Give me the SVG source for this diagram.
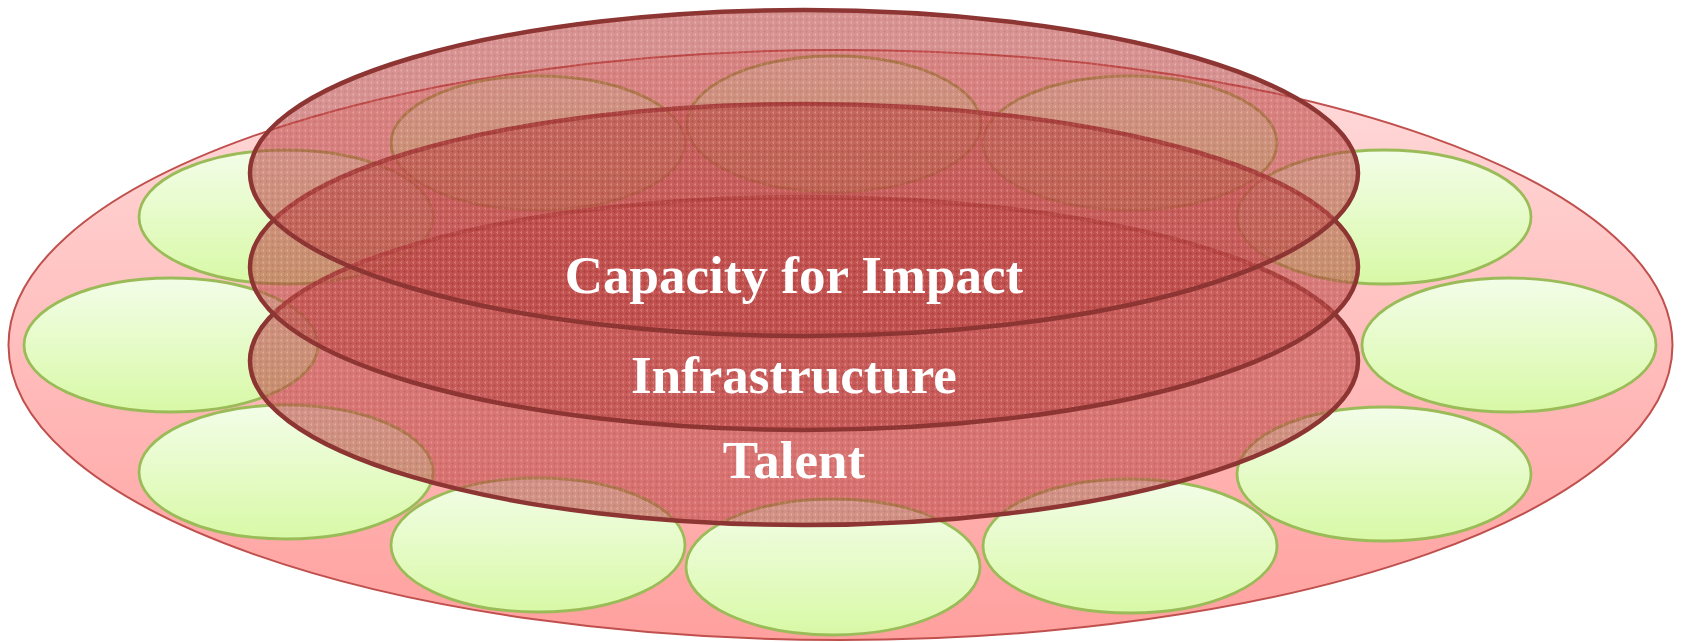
<svg xmlns="http://www.w3.org/2000/svg" width="1681" height="642" viewBox="0 0 1681 642">
  <defs>
    <linearGradient id="bgGrad" x1="0" y1="0" x2="0" y2="1">
      <stop offset="0" stop-color="#FFDCDC"/>
      <stop offset="1" stop-color="#FFA09E"/>
    </linearGradient>
    <linearGradient id="greenGrad" x1="0" y1="0" x2="0" y2="1">
      <stop offset="0" stop-color="#F3FDE8"/>
      <stop offset="1" stop-color="#D8F9A6"/>
    </linearGradient>
    <pattern id="dots" x="0" y="0" width="6" height="6" patternUnits="userSpaceOnUse">
      <rect width="6" height="6" fill="#BE4A48"/>
      <rect x="2" y="0" width="1" height="3" fill="#A83A38"/>
      <rect x="1" y="1" width="3" height="1" fill="#A83A38"/>
      <rect x="5" y="3" width="1" height="3" fill="#CF6E6B"/>
      <rect x="4" y="4" width="2" height="1" fill="#CF6E6B"/>
    </pattern>
  </defs>
  <style>
    .bg { fill: url(#bgGrad); stroke: #C0504D; stroke-width: 2; }
    .leaf { fill: url(#greenGrad); stroke: #9BBB59; stroke-width: 2.8; }
    .disc { fill: url(#dots); fill-opacity: 0.6; stroke: #8C3533; stroke-width: 4.5; }
    .label { font-family: "Liberation Serif", "Times New Roman", serif; font-weight: bold; font-size: 53px; fill: #FFFFFF; text-anchor: middle; }
  </style>

  <g id="background-shape">
    <ellipse class="bg" cx="840.5" cy="345" rx="832" ry="295"/>
  </g>

  <g id="ring">
    <g id="leaf-1"><ellipse class="leaf" cx="538" cy="143" rx="147" ry="67"/></g>
    <g id="leaf-2"><ellipse class="leaf" cx="834" cy="124" rx="147" ry="68"/></g>
    <g id="leaf-3"><ellipse class="leaf" cx="1130" cy="143" rx="147" ry="67"/></g>
    <g id="leaf-4"><ellipse class="leaf" cx="286" cy="217" rx="147" ry="67"/></g>
    <g id="leaf-5"><ellipse class="leaf" cx="1384" cy="217" rx="147" ry="67"/></g>
    <g id="leaf-6"><ellipse class="leaf" cx="171" cy="345" rx="147" ry="67"/></g>
    <g id="leaf-7"><ellipse class="leaf" cx="1509" cy="345" rx="147" ry="67"/></g>
    <g id="leaf-8"><ellipse class="leaf" cx="286" cy="472" rx="147" ry="67"/></g>
    <g id="leaf-9"><ellipse class="leaf" cx="1384" cy="474" rx="147" ry="67"/></g>
    <g id="leaf-10"><ellipse class="leaf" cx="538" cy="545" rx="147" ry="67"/></g>
    <g id="leaf-11"><ellipse class="leaf" cx="833" cy="567" rx="147" ry="68"/></g>
    <g id="leaf-12"><ellipse class="leaf" cx="1130" cy="546" rx="147" ry="67"/></g>
  </g>

  <g id="talent">
    <ellipse class="disc" cx="804" cy="361" rx="554" ry="164"/>
  </g>
  <g id="infrastructure">
    <ellipse class="disc" cx="804" cy="267" rx="554" ry="163"/>
  </g>
  <g id="capacity">
    <ellipse class="disc" cx="804" cy="173" rx="554" ry="163"/>
  </g>

  <g id="labels">
    <text class="label" x="794" y="293">Capacity for Impact</text>
    <text class="label" x="794" y="393">Infrastructure</text>
    <text class="label" x="794" y="478">Talent</text>
  </g>
</svg>
